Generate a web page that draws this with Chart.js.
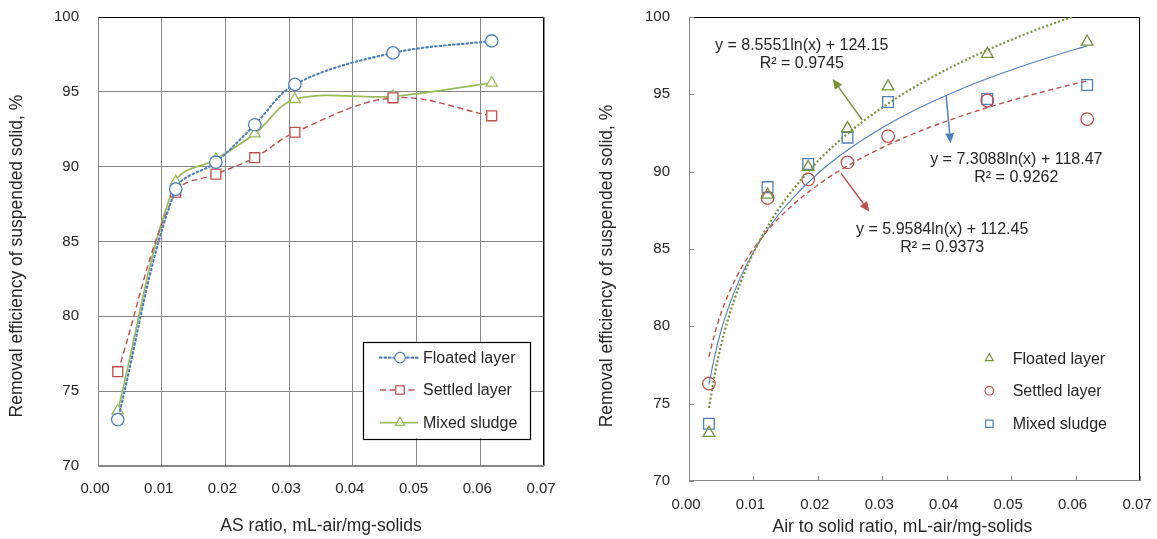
<!DOCTYPE html>
<html><head><meta charset="utf-8">
<script src="https://cdn.jsdelivr.net/npm/chart.js@4.4.1/dist/chart.umd.min.js"></script>
<style>
html,body{margin:0;padding:0;background:#fff;overflow:hidden;}
#wrapL{position:absolute;left:0;top:0;width:580px;height:539px;}
#wrapR{position:absolute;left:580px;top:0;width:577px;height:539px;}
canvas{display:block}
</style></head><body>
<div id="wrapL"><canvas id="cL"></canvas></div>
<div id="wrapR"><canvas id="cR"></canvas></div>
<script>
// ---------- data ----------
const asRatio  = [0.0031, 0.0122, 0.0185, 0.0246, 0.0309, 0.0463, 0.0618];
const floated  = [73.1, 88.5, 90.3, 92.8, 95.5, 97.6, 98.4];
const settled  = [76.3, 88.3, 89.5, 90.6, 92.3, 94.6, 93.4];
const mixed    = [73.7, 89.0, 90.5, 92.2, 94.5, 94.7, 95.6];

const xTickValues = [0, 0.01, 0.02, 0.03, 0.04, 0.05, 0.06, 0.07];
const xTickLabels = ['0.00','0.01','0.02','0.03','0.04','0.05','0.06','0.07'];
const yTickValues = [70, 75, 80, 85, 90, 95, 100];
const yTickLabels = ['70','75','80','85','90','95','100'];

// logarithmic trend lines
const trendX        = [0.0031, 0.004, 0.005, 0.006, 0.008, 0.01, 0.0125, 0.015, 0.02, 0.025, 0.03, 0.035, 0.04, 0.045, 0.05, 0.055, 0.06, 0.0618];
const trendFloated  = [74.73, 76.91, 78.82, 80.38, 82.84, 84.75, 86.66, 88.22, 90.68, 92.59, 94.15, 95.47, 96.61, 97.62, 98.52, 99.34, 100.08, 100.33];
const trendMixed    = [76.25, 78.11, 79.75, 81.08, 83.18, 84.81, 86.44, 87.78, 89.88, 91.51, 92.84, 93.97, 94.94, 95.81, 96.58, 97.27, 97.91, 98.12];
const trendSettled  = [78.03, 79.55, 80.88, 81.97, 83.68, 85.01, 86.34, 87.43, 89.14, 90.47, 91.56, 92.48, 93.27, 93.97, 94.60, 95.17, 95.69, 95.86];

const seriesNames = ['Floated layer', 'Settled layer', 'Mixed sludge'];
const eqFloated = ['y = 8.5551ln(x) + 124.15', 'R\u00B2 = 0.9745'];
const eqMixed   = ['y = 7.3088ln(x) + 118.47', 'R\u00B2 = 0.9262'];
const eqSettled = ['y = 5.9584ln(x) + 112.45', 'R\u00B2 = 0.9373'];

const NB = '\u00A0';
const yTitle = 'Removal efficiency of suspended solid, %';

// ---------- styles ----------
const BLUE = '#4F81BD', RED = '#C0504D', GREEN = '#9BBB59', OLIVE = '#77933C';
const GRID = '#878787', TXT = '#262626';
Chart.defaults.font.family = "'Liberation Sans', Arial, Helvetica, sans-serif";
Chart.defaults.color = TXT;
Chart.defaults.animation = false;

function pts(xs, ys) { return xs.map((x, i) => ({ x: x, y: ys[i] })); }

function mark(ctx, style, x, y, r, stroke, fill, lw) {
  ctx.save(); ctx.setLineDash([]); ctx.beginPath();
  if (style === 'circle') ctx.arc(x, y, r, 0, Math.PI * 2);
  else if (style === 'rect') { const s = r * Math.SQRT1_2; ctx.rect(x - s, y - s, 2 * s, 2 * s); }
  else { ctx.moveTo(x, y - r); ctx.lineTo(x + r * 0.866, y + r / 2); ctx.lineTo(x - r * 0.866, y + r / 2); ctx.closePath(); }
  if (fill) { ctx.fillStyle = fill; ctx.fill(); }
  ctx.strokeStyle = stroke; ctx.lineWidth = lw || 1.2; ctx.stroke(); ctx.restore();
}

function frame(ctx, a) {
  ctx.save(); ctx.setLineDash([]); ctx.lineWidth = 1;
  const l = Math.round(a.left) + 0.5, r = Math.round(a.right) - 0.5, t = Math.round(a.top) + 0.5, b = Math.round(a.bottom) - 0.5;
  ctx.strokeStyle = '#000';
  ctx.beginPath(); ctx.moveTo(l, t); ctx.lineTo(r, t); ctx.lineTo(r, b); ctx.stroke();
  ctx.strokeStyle = GRID;
  ctx.beginPath(); ctx.moveTo(l, t); ctx.lineTo(l, b); ctx.lineTo(r, b); ctx.stroke();
  ctx.restore();
}

function xScaleCfg(height, pad, title, titlePad, gridOn) {
  return {
    type: 'linear', min: 0, max: 0.07,
    afterBuildTicks: s => { s.ticks = xTickValues.map(v => ({ value: v })); },
    afterFit: s => { s.height = height; s.paddingLeft = 0; s.paddingRight = 0; },
    grid: gridOn ? { color: GRID, lineWidth: 1, drawTicks: false } : { display: false, drawTicks: false },
    border: { display: false },
    ticks: { font: { size: 15 }, padding: pad, labelOffset: -3, maxRotation: 0, autoSkip: false, color: TXT,
             callback: (v, i) => xTickLabels[i] },
    title: { display: true, text: title, font: { size: 17.5 }, color: TXT, padding: { top: 0, bottom: titlePad } }
  };
}
function yScaleCfg(width, titlePad, gridOn, titleText) {
  return {
    type: 'linear', min: 70, max: 100,
    afterBuildTicks: s => { s.ticks = yTickValues.map(v => ({ value: v })); },
    afterFit: s => { s.width = width; s.paddingTop = 0; s.paddingBottom = 0; },
    grid: gridOn ? { color: GRID, lineWidth: 1, drawTicks: false } : { display: false, drawTicks: false },
    border: { display: false },
    ticks: { font: { size: 15 }, padding: 19, autoSkip: false, color: TXT, callback: (v, i) => yTickLabels[i] },
    title: { display: true, text: titleText, font: { size: 17.5 }, color: TXT,
             padding: { top: titlePad, bottom: 0 } }
  };
}

// ---------- left chart ----------
const leftStyles = [
  { color: BLUE,  dash: [1.5, 3], width: 2.2, style: 'circle',   r: 6.2, cap: 'round' },
  { color: RED,   dash: [6, 3.5], width: 1.4, style: 'rect',     r: 7.0, cap: 'butt' },
  { color: GREEN, dash: [],       width: 1.7, style: 'triangle', r: 6.4, cap: 'butt' }
];
const leftValues = [floated, settled, mixed];

new Chart(document.getElementById('cL'), {
  type: 'scatter',
  data: {
    datasets: leftValues.map((vals, k) => ({
      label: seriesNames[k],
      data: pts(asRatio, vals),
      showLine: true, tension: 0.35,
      borderColor: leftStyles[k].color, borderWidth: leftStyles[k].width,
      borderDash: leftStyles[k].dash, borderCapStyle: leftStyles[k].cap,
      pointStyle: leftStyles[k].style, pointRadius: leftStyles[k].r,
      pointBorderColor: leftStyles[k].color, pointBackgroundColor: '#fff', pointBorderWidth: 1.3
    }))
  },
  options: {
    responsive: true, maintainAspectRatio: false,
    layout: { padding: { left: 0, top: 17, right: 36, bottom: 0 } },
    plugins: { legend: { display: false }, tooltip: { enabled: false } },
    scales: {
      x: xScaleCfg(73, 14, 'AS ratio, mL-air/mg-solids', 2, true),
      y: yScaleCfg(98, 7, true, yTitle + NB.repeat(6))
    }
  },
  plugins: [{
    id: 'leftDeco',
    beforeDatasetsDraw(chart) { frame(chart.ctx, chart.chartArea); },
    afterDraw(chart) {
      const ctx = chart.ctx, a = chart.chartArea;
      const bx = a.right - 180.7, by = a.bottom - 124.3, bw = 166.7, bh = 96.6;
      ctx.save();
      ctx.fillStyle = '#fff'; ctx.fillRect(bx, by, bw, bh);
      ctx.strokeStyle = '#000'; ctx.lineWidth = 1.2; ctx.strokeRect(Math.round(bx) + 0.5, Math.round(by) + 0.5, Math.round(bw), Math.round(bh));
      const rows = [16, 48.3, 81];
      ctx.font = "16px 'Liberation Sans', Arial, sans-serif"; ctx.textBaseline = 'middle'; ctx.textAlign = 'left';
      rows.forEach((dy, k) => {
        const st = leftStyles[k], y = by + dy;
        ctx.save(); ctx.strokeStyle = st.color; ctx.lineWidth = st.width; ctx.setLineDash(st.dash); ctx.lineCap = st.cap;
        ctx.beginPath(); ctx.moveTo(bx + 16.7, y); ctx.lineTo(bx + 54.7, y); ctx.stroke(); ctx.restore();
        mark(ctx, st.style, bx + 36.7, y, st.r * 0.85, st.color, '#fff', 1.2);
        ctx.fillStyle = TXT; ctx.fillText(seriesNames[k], bx + 59.7, y + 1);
      });
      ctx.restore();
    }
  }]
});

// ---------- right chart ----------
const rightStyles = [
  { color: OLIVE, style: 'triangle', r: 6.7 },
  { color: RED,   style: 'circle',   r: 6.3 },
  { color: BLUE,  style: 'rect',     r: 7.6 }
];
const rightValues = [floated, settled, mixed];
const trendDefs = [
  { vals: trendFloated, color: OLIVE, dash: [2, 2.2], width: 2.2, cap: 'butt' },
  { vals: trendSettled, color: RED,   dash: [5, 3.5], width: 1.4, cap: 'butt' },
  { vals: trendMixed,   color: BLUE,  dash: [],       width: 1.1, cap: 'butt' }
];

const rightDatasets = [];
trendDefs.forEach(t => rightDatasets.push({
  data: pts(trendX, t.vals), showLine: true, cubicInterpolationMode: 'monotone',
  borderColor: t.color, borderWidth: t.width, borderDash: t.dash, borderCapStyle: t.cap,
  pointRadius: 0, pointHoverRadius: 0
}));
rightValues.forEach((vals, k) => rightDatasets.push({
  label: seriesNames[k], data: pts(asRatio, vals), showLine: false,
  pointStyle: rightStyles[k].style, pointRadius: rightStyles[k].r,
  pointBorderColor: rightStyles[k].color, pointBackgroundColor: 'rgba(0,0,0,0)', pointBorderWidth: 1.3
}));

// annotation anchors in data coordinates
const labelsR = [
  { text: eqFloated, x: 0.0175, y1: 98.12, y2: 97.01 },
  { text: eqMixed,   x: 0.0508, y1: 90.80, y2: 89.61 },
  { text: eqSettled, x: 0.0393, y1: 86.23, y2: 85.06 }
];
const arrowsR = [
  { from: [0.0269, 93.34], to: [0.0223, 95.99], color: OLIVE },
  { from: [0.0399, 94.96], to: [0.0406, 91.83], color: BLUE },
  { from: [0.0236, 89.89], to: [0.0280, 87.41], color: RED }
];

new Chart(document.getElementById('cR'), {
  type: 'scatter',
  data: { datasets: rightDatasets },
  options: {
    responsive: true, maintainAspectRatio: false,
    layout: { padding: { left: 0, top: 17, right: 17, bottom: 0 } },
    plugins: { legend: { display: false }, tooltip: { enabled: false } },
    scales: {
      x: xScaleCfg(58, 15, 'Air to solid ratio, mL-air/mg-solids' + NB.repeat(5), 1, false),
      y: yScaleCfg(109, 16.5, false, yTitle + NB.repeat(7))
    }
  },
  plugins: [{
    id: 'rightDeco',
    beforeDatasetsDraw(chart) {
      const ctx = chart.ctx, a = chart.chartArea, xs = chart.scales.x, ys = chart.scales.y;
      frame(ctx, a);
      ctx.save(); ctx.strokeStyle = GRID; ctx.lineWidth = 1;
      xTickValues.forEach(v => {
        const px = Math.round(xs.getPixelForValue(v)) + 0.5;
        ctx.beginPath(); ctx.moveTo(px, a.bottom); ctx.lineTo(px, a.bottom - 5); ctx.stroke();
      });
      yTickValues.forEach(v => {
        const py = Math.round(ys.getPixelForValue(v)) + 0.5;
        ctx.beginPath(); ctx.moveTo(a.left, py); ctx.lineTo(a.left + 5, py); ctx.stroke();
      });
      ctx.restore();
    },
    afterDraw(chart) {
      const ctx = chart.ctx, a = chart.chartArea, xs = chart.scales.x, ys = chart.scales.y;
      ctx.save();
      ctx.font = "16px 'Liberation Sans', Arial, sans-serif"; ctx.fillStyle = TXT;
      ctx.textAlign = 'center'; ctx.textBaseline = 'middle';
      labelsR.forEach(L => {
        const px = xs.getPixelForValue(L.x);
        ctx.fillText(L.text[0], px, ys.getPixelForValue(L.y1));
        ctx.fillText(L.text[1], px, ys.getPixelForValue(L.y2));
      });
      arrowsR.forEach(A => {
        const x0 = xs.getPixelForValue(A.from[0]), y0 = ys.getPixelForValue(A.from[1]);
        const x1 = xs.getPixelForValue(A.to[0]), y1 = ys.getPixelForValue(A.to[1]);
        const ang = Math.atan2(y1 - y0, x1 - x0), hl = 10, hw = 4.5;
        const bxp = x1 - hl * Math.cos(ang), byp = y1 - hl * Math.sin(ang);
        ctx.strokeStyle = A.color; ctx.fillStyle = A.color; ctx.lineWidth = 1.5;
        ctx.beginPath(); ctx.moveTo(x0, y0); ctx.lineTo(bxp, byp); ctx.stroke();
        ctx.beginPath(); ctx.moveTo(x1, y1);
        ctx.lineTo(bxp + hw * Math.sin(ang), byp - hw * Math.cos(ang));
        ctx.lineTo(bxp - hw * Math.sin(ang), byp + hw * Math.cos(ang));
        ctx.closePath(); ctx.fill();
      });
      // legend
      const rows = [122.7, 90.3, 57.3];
      ctx.textAlign = 'left';
      rows.forEach((dy, k) => {
        const y = a.bottom - dy, st = rightStyles[k];
        mark(ctx, st.style, a.right - 150.7, y, st.r * 0.68, st.color, null, 1.2);
        ctx.fillStyle = TXT; ctx.fillText(seriesNames[k], a.right - 127.3, y + 1);
      });
      ctx.restore();
    }
  }]
});
</script>
</body></html>
